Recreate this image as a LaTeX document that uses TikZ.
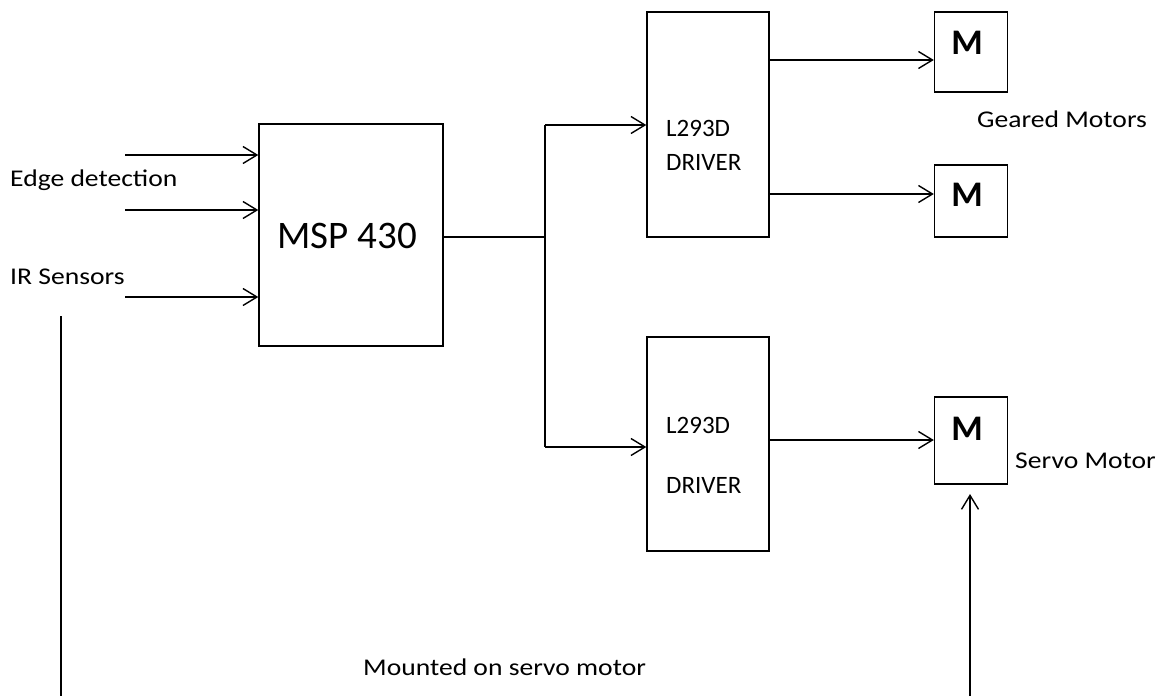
\documentclass[tikz,border=0pt]{standalone}
\usepackage{fontspec}
\setmainfont{Carlito}
\newfontfamily\lblfont[FakeStretch=1.15]{Carlito}
\usetikzlibrary{arrows.meta}
\begin{document}
\begin{tikzpicture}[x=1pt,y=-1pt,
  blk/.style={draw=black,line width=1.4pt,inner sep=0pt,fill=white},
  arr/.style={line width=1.4pt,-{Straight Barb[length=14pt,width=17pt,line width=1.4pt]}},
  ln/.style={line width=1.4pt},
  lbl/.style={inner sep=0pt,anchor=west,font=\lblfont\fontsize{24}{26}\selectfont},
  dlbl/.style={inner sep=0pt,anchor=west,font=\fontsize{25}{28}\selectfont},
  mlbl/.style={inner sep=0pt,font=\fontsize{36}{40}\selectfont\bfseries}]
\useasboundingbox[fill=white] (0,0) rectangle (1158,696);
% blocks
\node[blk,minimum width=184pt,minimum height=222pt] (msp) at (351,235) {};
\node[inner sep=0pt,font=\fontsize{39}{42}\selectfont] (msptxt) at (347,236) {MSP 430};
\node[blk,minimum width=122pt,minimum height=225pt] (d1) at (708,124.5) {};
\node[blk,minimum width=122pt,minimum height=214pt] (d2) at (708,444) {};
\node[dlbl] (d1a) at (666,128) {L293D};
\node[dlbl] (d1b) at (666,162) {DRIVER};
\node[dlbl] (d2a) at (666,425) {L293D};
\node[dlbl] (d2b) at (666,485) {DRIVER};
\node[blk,minimum width=73pt,minimum height=80pt] (m1) at (971,52) {};
\node[blk,minimum width=73pt,minimum height=72pt] (m2) at (971,201) {};
\node[blk,minimum width=73pt,minimum height=87pt] (m3) at (971,440.5) {};
\node[mlbl] (m1t) at (967,43) {M};
\node[mlbl] (m2t) at (967,195) {M};
\node[mlbl] (m3t) at (967,429) {M};
% labels
\node[lbl] (edge) at (10,180) {Edge detection};
\node[lbl] (ir) at (10,277) {IR Sensors};
\node[lbl] (geared) at (977,119) {Geared Motors};
\node[lbl] (servo) at (1015,461) {Servo Motor};
\node[lbl] (mounted) at (363,667) {Mounted on servo motor};
% inputs
\coordinate (i1) at (125,155);
\coordinate (i2) at (125,210);
\coordinate (i3) at (125,297);
\draw[arr] (i1) -- (i1 -| msp.west);
\draw[arr] (i2) -- (i2 -| msp.west);
\draw[arr] (i3) -- (i3 -| msp.west);
% msp to drivers
\coordinate (j) at (545,237);
\coordinate (j1) at (545,125);
\coordinate (j2) at (545,447);
\draw[ln] (msp.east |- j) -- (j);
\draw[ln] (j1) -- (j2);
\draw[arr] (j1) -- (j1 -| d1.west);
\draw[arr] (j2) -- (j2 -| d2.west);
% drivers to motors
\coordinate (o1) at (769,60);
\coordinate (o2) at (769,194);
\coordinate (o3) at (769,440);
\draw[arr] (o1 -| d1.east) -- (o1 -| m1.west);
\draw[arr] (o2 -| d1.east) -- (o2 -| m2.west);
\draw[arr] (o3 -| d2.east) -- (o3 -| m3.west);
% mounting lines
\coordinate (l1) at (61,316);
\coordinate (l2) at (61,696);
\draw[ln] (l1) -- (l2);
\coordinate (s1) at (970,696);
\coordinate (s2) at (970,494);
\draw[arr] (s1) -- (s2);
\end{tikzpicture}
\end{document}
